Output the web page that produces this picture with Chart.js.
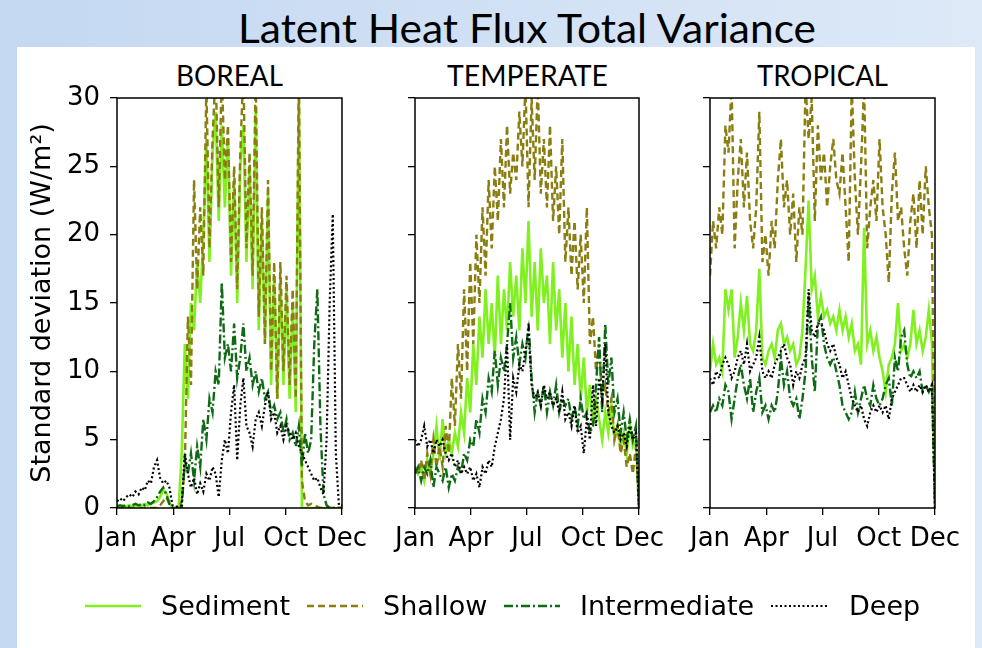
<!DOCTYPE html>
<html>
<head>
<meta charset="utf-8">
<script src="https://cdn.jsdelivr.net/npm/chart.js@4.4.0/dist/chart.umd.min.js"></script>
<style>
  html, body { margin: 0; padding: 0; }
  body { width: 982px; height: 648px; position: relative; overflow: hidden;
         background: linear-gradient(to right, #c4d8f2, #dde9f7); }
  #panel { position: absolute; left: 17px; top: 47px; width: 958px; height: 601px; background: #fff; }
  canvas { position: absolute; left: 0; top: 0; }
  .txt { position: absolute; white-space: nowrap; color: #000; }
  .head { font-family: Lato, "Open Sans", sans-serif; }
  .leg { position: absolute; top: 590px; height: 32px; line-height: 32px;
         font-family: "DejaVu Sans", sans-serif; font-size: 27px; color: #000; white-space: nowrap; }
  .swatch { position: absolute; top: 601px; }
</style>
</head>
<body>
<div id="panel"></div>
<div id="mainTitle" class="txt head" style="top:3px; font-size:41px;">Latent Heat Flux Total Variance</div>
<div id="t0" class="txt head" style="top:57px; font-size:29px;"></div>
<div id="t1" class="txt head" style="top:57px; font-size:29px;"></div>
<div id="t2" class="txt head" style="top:57px; font-size:29px;"></div>

<canvas id="c0" width="982" height="648"></canvas>
<canvas id="c1" width="982" height="648"></canvas>
<canvas id="c2" width="982" height="648"></canvas>

<svg class="swatch" style="left:85px" width="56" height="10"><line x1="0" y1="5" x2="56" y2="5" stroke="#80f020" stroke-width="2.6"/></svg>
<div class="leg" style="left:161px">Sediment</div>
<svg class="swatch" style="left:307px" width="56" height="10"><line x1="0" y1="5" x2="56" y2="5" stroke="#8a7e10" stroke-width="2.4" stroke-dasharray="7 4"/></svg>
<div class="leg" style="left:383px">Shallow</div>
<svg class="swatch" style="left:504px" width="56" height="10"><line x1="0" y1="5" x2="56" y2="5" stroke="#0f6a14" stroke-width="2.4" stroke-dasharray="9 3 2 3"/></svg>
<div class="leg" style="left:580px">Intermediate</div>
<svg class="swatch" style="left:771px" width="56" height="10"><line x1="0" y1="5" x2="56" y2="5" stroke="#000" stroke-width="2.2" stroke-dasharray="2 2.5"/></svg>
<div class="leg" style="left:849px">Deep</div>

<script>
// day of year for each sample (every 5 days)
const days = [0,5,10,15,20,25,30,35,40,45,50,55,60,65,70,75,80,85,90,95,100,105,110,115,120,125,130,135,140,145,150,155,160,165,170,175,180,185,190,195,200,205,210,215,220,225,230,235,240,245,250,255,260,265,270,275,280,285,290,295,300,305,310,315,320,325,330,335,340,345,350,355,360,365];
const monthTicks = [0, 91.25, 182.5, 273.75, 365];
const monthLabels = ['Jan', 'Apr', 'Jul', 'Oct', 'Dec'];
const yTicks = [0, 5, 10, 15, 20, 25, 30];
const regions = ['BOREAL', 'TEMPERATE', 'TROPICAL'];
const seriesNames = ['Sediment', 'Shallow', 'Intermediate', 'Deep'];

// BOREAL
const borealSediment = [0.2,0.1,0.2,0.1,0.2,0.1,0.2,0.1,0.2,0.3,0.2,0.3,0.4,0.5,0.8,1.3,1.1,0.4,0,0,0,4,12,8,15,13,18,15,20,27,18,26,29,21,28,22,27,17,24,15,25,28,18,25,16,29,13,21,12,23,9,17,8,17,9,16,8,15,7,31,0,0,0,0,0,0,0,0,0,0,0,0,0,0];
const borealShallow = [0,0,0,0,0,0,0,0,0,0,0,0,0,0,0.2,0.5,0.8,0.3,0,0,0,0.5,3,14,9,24,16,22,17,31,19,27,32,22,32,24,28,18,25,16,26,32,19,26,17,32,14,22,12,24,10,18,8,18,10,17,9,16,8,32,2,0.5,0.2,0.3,0.2,0.1,0,0,0,0,0,0,0,0];
const borealIntermediate = [0.1,0.2,0.1,0.2,0.1,0.2,0.3,0.2,0.3,0.2,0.4,0.3,0.5,0.8,1.2,1.5,1.0,0.3,0,0,0,0,3.5,2.5,4,2,4.5,3,6.5,5,8,7,10,9,16.5,11,12,10,13.5,9.5,11,13.5,10,11,9,10,8.5,9.5,8,8.5,7,7.5,6.5,7,5.5,6.5,5,5.5,4.5,6,3,5.5,4,5,12,16,6,1,0.2,0,0,0,0,0];
const borealDeep = [0.5,0.7,0.5,0.8,1.0,0.8,1.2,1.0,1.5,1.3,2.0,1.8,3.0,3.5,2.2,1.8,2.0,1.5,0.2,0.1,0.1,0.2,4,2.5,1.5,2.2,1.0,1.8,1.2,2.5,2.0,3.0,2.5,0.8,3.5,5,4,7,9,3.5,7.5,9.5,6,5.5,4.5,6.5,7,6,7.5,8.5,6.5,7,5.5,6,5,6,5.5,5,5.5,4.5,4,3.5,3,2.5,2,2.2,1.5,1,5,15,21.5,4,0.2,0.2];

// TEMPERATE
const temperateSediment = [3,2.5,3,2,3.5,2.5,4,6,3.5,6.5,4,5,4,5.5,4.5,7,5.5,9.5,7,12,9,14,11,16,12,15,11,17,12,16,13,18,14,17,13,19,15,21,14,18,13,19,15,17,12,18,13,16,11,15,10,14,9,12,8,11,7,9,6,8,6.5,5,7,5.5,7.5,5,6,4.5,5.5,4,6,4.5,5,0];
const temperateShallow = [3,2.5,3.5,2,4,2.5,5,3,4.5,3,6,4,9.5,6,12,8,16,10,18,12,20,15,22,17,24,19,25,21,27,22,28,23,26,24,29,25,31,22,30,24,31,23,27,22,28,21,25,20,27,18,22,17,21,16,20,15,22,12,14,10,12,8,9,7,8,5,6,4,5,3,4,2.5,4.5,0];
const temperateIntermediate = [2.5,3,2,3,2.5,3.5,1.5,3,2.5,2,3,1.5,2.5,2,3,2.5,4,3.5,5,4.5,6.5,5.5,8,7,9.5,8.5,11.5,9,11,10,12,15,11,12.5,10.5,12,11,13.5,9.5,7,8.5,7.5,9,7,8.5,7.5,9,7,8,7.5,8,6.5,7.5,6,8,6.5,7,5.5,6,9,12.5,7,13.5,9,11,7,8,5.5,7,5,6.5,5,6,0];
const temperateDeep = [5,4.5,5,6,4.5,5,4,5,4.5,5,4,3.5,4,3,3.5,2.5,3,2.5,3,2,2.5,1.5,3,2.5,3.5,3,4.5,5.5,6.5,8,12,5,9.5,8.5,10.5,10,11.5,13,9,8,8.5,7.5,9,8,8.5,7.5,8,7,8.5,6.5,7,6,7.5,5.5,6,4,6.5,5,9,6,9.5,8,12,7,6,5.5,6,5,5.5,4.5,6,5,5.5,0];

// TROPICAL
const tropicalSediment = [10,12,10.5,11,10,16,14.5,16,11,12.5,15,13,15.5,12,11.5,13,17.5,11,10.5,11.5,12,11,13,13.5,12,12.5,11.5,12,10.5,11,13,17.5,22.5,16,17,14,15.5,14,14.5,13.5,14,13,14.5,13,14,12.5,13.5,11.5,12,10.5,20.5,12,13,11.5,12.5,11,10,8.5,10.5,11,12,15,11.5,12,11,12,14.5,12,13,11.5,12.5,14.5,12,0];
const tropicalShallow = [17,21,19,22,20,28,26,31,19,24,27,22,26,21,19,22,29,18,20,17,21,19,24,27,22,24,20,23,18,22,20,31,27,30,21,28,24,26,22,25,27,24,23,26,22,18,31,24,20,25,31,19,22,24,21,27,22,20,16.5,23,26,21,22,19,17,21,23,19,24,20,25,22,20,0];
const tropicalIntermediate = [7,7.5,7,8,7.5,9,8.5,6.5,8,9.5,10.5,9,8,9.5,7,8.5,9.5,7,7.5,6.5,7.5,7,8.5,11,9,10,8,7.5,8,6.5,8,10,15.5,11,8.5,13.5,14,12,11,10.5,11,10,9,7.5,7,6.5,7,8.5,7,8,9,8,7.5,9,8,7.5,8,9,9.5,7.5,11,10,12.5,13,10.5,9.5,10,9.5,10,8.5,9,8.5,9,0];
const tropicalDeep = [9.5,9,10,9.5,10.5,11,10.5,9.5,10,11,11.5,10.5,12,10,10.5,11,12.5,10,9.5,10,9.5,10.5,11,11.5,12,11,10.5,9,10,9.5,10.5,11,16,13,12.5,13.5,13.5,13,12,11.5,12,11,10.5,9.5,10,9,8,7.5,7,7.5,6.5,6,7,7.5,7,7.5,7,7.5,6.5,8,8.5,9,9.5,9.5,9,8.5,9,8.5,9,8.5,9,8.5,9,0];

const colors = ['#80f020', '#8a7e10', '#0f6a14', '#000000'];
const widths = [2.6, 2.4, 2.4, 2.2];
const dashes = [[], [7, 4], [9, 3, 2, 3], [2, 2.5]];

// plot boxes in page pixels: [left, right]
const boxes = [[117, 342], [415, 639], [710, 935]];
const plotTop = 98, plotBottom = 508;

const frame = {
  id: 'frame',
  afterDatasetsDraw(chart) {
    const { ctx, chartArea: a } = chart;
    ctx.save();
    ctx.strokeStyle = '#000';
    ctx.lineWidth = 1.5;
    ctx.strokeRect(a.left, a.top, a.right - a.left, a.bottom - a.top);
    ctx.restore();
  }
};

function makeChart(id, values, box, showY) {
  const yW = showY ? 100 : 60;
  const xH = 60;
  const datasets = seriesNames.map((name, k) => ({
    label: name,
    data: values[k].map((v, i) => ({ x: days[i], y: v })),
    borderColor: colors[k],
    borderWidth: widths[k],
    borderDash: dashes[k],
    pointRadius: 0,
    tension: 0,
    fill: false,
    order: 4 - k
  }));
  return new Chart(document.getElementById(id), {
    type: 'line',
    data: { datasets: datasets },
    options: {
      responsive: false,
      animation: false,
      events: [],
      layout: { padding: { left: box[0] - yW, right: 982 - box[1], top: plotTop, bottom: 648 - plotBottom - xH } },
      plugins: { legend: { display: false }, tooltip: { enabled: false } },
      scales: {
        x: {
          type: 'linear', min: 0, max: 365,
          afterBuildTicks: s => { s.ticks = monthTicks.map(v => ({ value: v })); },
          afterFit: s => { s.height = xH; },
          border: { display: false },
          grid: { drawOnChartArea: false, drawTicks: true, tickLength: 7, color: '#000', lineWidth: 1.3 },
          ticks: {
            autoSkip: false, maxRotation: 0, padding: 9, color: '#000',
            font: { family: 'DejaVu Sans', size: 26 },
            callback: (v, i) => monthLabels[i]
          }
        },
        y: {
          type: 'linear', min: 0, max: 30,
          afterBuildTicks: s => { s.ticks = yTicks.map(v => ({ value: v })); },
          afterFit: s => { s.width = yW; },
          border: { display: false },
          grid: { drawOnChartArea: false, drawTicks: true, tickLength: 7, color: '#000', lineWidth: 1.3 },
          ticks: { display: showY, padding: 10, color: '#000', font: { family: 'DejaVu Sans', size: 26 } },
          title: {
            display: showY, text: 'Standard deviation (W/m²)', color: '#000',
            font: { family: 'DejaVu Sans', size: 27 }, padding: { top: 10, bottom: 0 }
          }
        }
      }
    },
    plugins: [frame]
  });
}

makeChart('c0', [borealSediment, borealShallow, borealIntermediate, borealDeep], boxes[0], true);
makeChart('c1', [temperateSediment, temperateShallow, temperateIntermediate, temperateDeep], boxes[1], false);
makeChart('c2', [tropicalSediment, tropicalShallow, tropicalIntermediate, tropicalDeep], boxes[2], false);

// headings, stretched to the widths seen in the reference
function fitText(el, width, centerX) {
  const w = el.getBoundingClientRect().width;
  el.style.transformOrigin = 'left top';
  el.style.transform = 'scaleX(' + (width / w) + ')';
  el.style.left = (centerX - width / 2) + 'px';
}
fitText(document.getElementById('mainTitle'), 578, 527);
const titleWidths = [107, 161, 131];
regions.forEach((r, i) => {
  const el = document.getElementById('t' + i);
  el.textContent = r;
  fitText(el, titleWidths[i], (boxes[i][0] + boxes[i][1]) / 2);
});
</script>
</body>
</html>
